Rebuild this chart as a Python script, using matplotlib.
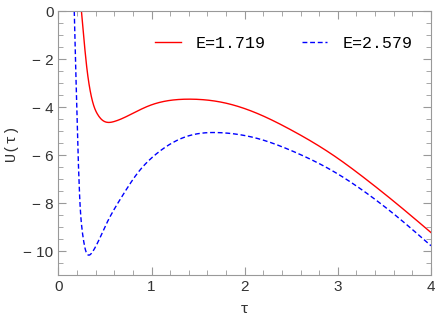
import numpy as np
import matplotlib
matplotlib.use('Agg')
import matplotlib.pyplot as plt
from matplotlib.ticker import MultipleLocator, FuncFormatter

# Data

TAU_RED = [0.247, 0.27, 0.30, 0.34, 0.38, 0.42, 0.47, 0.535, 0.6, 0.7, 0.83, 0.983,
           1.2, 1.412, 1.767, 2.132, 2.487, 2.948, 3.313, 3.67, 4.0]
U_RED = [0.0, -1.0, -2.2, -3.3, -3.95, -4.3, -4.54, -4.64, -4.6, -4.45, -4.2, -3.93,
         -3.72, -3.67, -3.81, -4.26, -4.93, -6.0, -7.04, -8.15, -9.23]

TAU_BLUE = [0.17, 0.183, 0.195, 0.21, 0.23, 0.26, 0.29, 0.33, 0.38, 0.44, 0.5, 0.68,
            0.85, 1.036, 1.38, 1.753, 2.129, 2.54, 2.948, 3.313, 3.668, 4.0]
U_BLUE = [0.0, -2.0, -3.7, -5.8, -7.9, -9.3, -9.95, -10.17, -9.95, -9.5, -8.99, -7.74,
          -6.75, -6.0, -5.22, -5.07, -5.3, -5.88, -6.67, -7.6, -8.67, -9.78]

LABELS = ['E=1.719', 'E=2.579']


# Natural cubic spline through the read points, to draw a smooth curve
def spline(x, y, n=600):
    x = np.asarray(x, float)
    y = np.asarray(y, float)
    k = len(x)
    h = np.diff(x)
    A = np.zeros((k, k))
    b = np.zeros(k)
    A[0, 0] = A[-1, -1] = 1
    for i in range(1, k - 1):
        A[i, i - 1] = h[i - 1]
        A[i, i] = 2 * (h[i - 1] + h[i])
        A[i, i + 1] = h[i]
        b[i] = 6 * ((y[i + 1] - y[i]) / h[i] - (y[i] - y[i - 1]) / h[i - 1])
    M = np.linalg.solve(A, b)
    xs = np.linspace(x[0], x[-1], n)
    j = np.clip(np.searchsorted(x, xs) - 1, 0, k - 2)
    a = x[j + 1] - xs
    c = xs - x[j]
    hj = h[j]
    ys = (M[j] * a**3 + M[j + 1] * c**3) / (6 * hj) \
        + (y[j] / hj - M[j] * hj / 6) * a + (y[j + 1] / hj - M[j + 1] * hj / 6) * c
    return xs, ys


fig = plt.figure(figsize=(4.36, 3.27), dpi=100)
ax = fig.add_axes([0.134, 0.159, 0.8545, 0.807])

xr, yr = spline(TAU_RED, U_RED)
xb, yb = spline(TAU_BLUE, U_BLUE)
ax.plot(xr, yr, color='#ff0000', lw=1.0, label=LABELS[0])
ax.plot(xb, yb, color='#0000ff', lw=1.0, ls=(0, (3.5, 2)), label=LABELS[1])

ax.set_xlim(0, 4)
ax.set_ylim(-11, 0)

ax.xaxis.set_major_locator(MultipleLocator(1))
ax.xaxis.set_minor_locator(MultipleLocator(0.2))
ax.yaxis.set_major_locator(MultipleLocator(2))
ax.yaxis.set_minor_locator(MultipleLocator(0.5))
ax.yaxis.set_major_formatter(FuncFormatter(lambda v, p: '0' if v == 0 else '\u2212 %d' % abs(v)))

frame = '#999999'
for s in ax.spines.values():
    s.set_color(frame)
    s.set_linewidth(0.8)
ax.tick_params(which='both', direction='in', top=True, right=True, color=frame,
               labelcolor='#333333', labelsize=11)
ax.tick_params(which='major', length=6, width=0.8)
ax.tick_params(which='minor', length=3.5, width=0.6)
for lab in ax.get_xticklabels() + ax.get_yticklabels():
    lab.set_family('Liberation Sans')

ax.set_xlabel('\u03c4', family='Liberation Mono', fontsize=11, color='#333333', labelpad=6)
ax.set_ylabel('U(\u03c4)', family='Liberation Mono', fontsize=11, color='#333333', labelpad=4)

ax.legend(loc='center left', ncol=2, frameon=False, prop={'family': 'Liberation Mono', 'size': 12},
          handlelength=1.55, columnspacing=2.15, handletextpad=0.9, borderpad=0,
          borderaxespad=0, bbox_to_anchor=(0.259, 0.879))

fig.savefig('out.png', dpi=100)
